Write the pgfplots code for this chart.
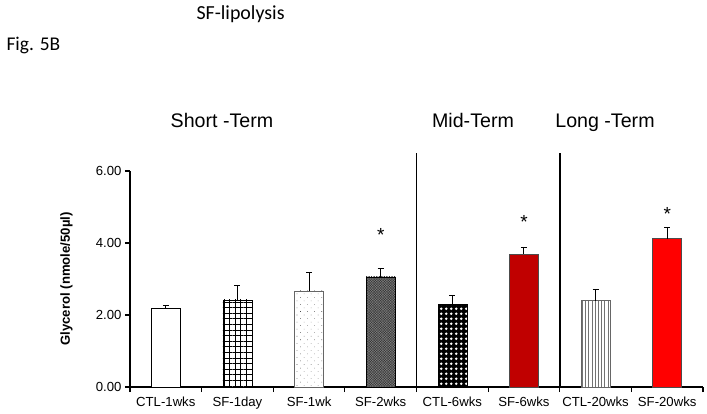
\documentclass[border=0pt]{standalone}
\usepackage{pgfplots}
\pgfplotsset{compat=1.18}
\usepackage{fontspec}
\setmainfont{Liberation Sans}
\newfontfamily\calib{Carlito}
\usetikzlibrary{patterns,patterns.meta}
\definecolor{darkred}{HTML}{C00000}
\definecolor{brightred}{HTML}{FF0000}
\begin{document}
\begin{tikzpicture}
\useasboundingbox (0,0) rectangle (707bp,414bp);
\node[font=\calib\fontsize{19.5}{22}\selectfont, anchor=west] at (3bp,369bp) {Fig. 5B};
\node[font=\calib\fontsize{20}{22}\selectfont, anchor=west] at (193bp,400bp) {SF-lipolysis};
\node[font=\fontsize{19.7}{23}\selectfont, anchor=base] at (222bp,286bp) {Short -Term};
\node[font=\fontsize{19.7}{23}\selectfont, anchor=base] at (473bp,286bp) {Mid-Term};
\node[font=\fontsize{19.7}{23}\selectfont, anchor=base] at (605bp,286bp) {Long -Term};
\begin{axis}[
  at={(130bp,27bp)}, anchor=south west,
  scale only axis, width=573bp, height=216bp,
  xmin=-0.5, xmax=7.5, ymin=0, ymax=6,
  clip=false,
  axis x line=bottom, axis y line=left,
  axis line style={line width=1.5pt, -},
  ybar, bar width=0.405, bar shift=0pt,
  xtick={0,1,2,3,4,5,6,7},
  xticklabels={CTL-1wks,SF-1day,SF-1wk,SF-2wks,CTL-6wks,SF-6wks,CTL-20wks,SF-20wks},
  major x tick style={draw=none},
  minor xtick={-0.5,0.5,...,7.5},
  minor x tick style={line width=1.1pt, black},
  minor tick length=5bp,
  xtick pos=bottom, ytick pos=left,
  tick align=outside,
  ytick={0,2,4,6},
  yticklabels={0.00,2.00,4.00,6.00},
  major tick length=5bp,
  y tick style={line width=1.1pt, black},
  tick label style={font=\fontsize{13.2}{15}\selectfont},
  /pgf/number format/assume math mode=true,
  xticklabel style={yshift=-1bp},
  ylabel={Glycerol (nmole/50µl)},
  ylabel style={font=\bfseries\fontsize{13.2}{15}\selectfont, at={(axis description cs:-0.094,0.5)}},
  error bars/y dir=plus, error bars/y explicit,
  error bars/error bar style={black, line width=0.9pt},
  error bars/error mark options={black, rotate=90, mark size=3bp, line width=0.9pt},
]
\addplot[fill=white, draw=black, line width=0.6pt] coordinates {(0,2.19) +- (0,0.07)};
\addplot[fill=white, draw=black, line width=0.6pt, postaction={pattern={Hatch[angle=0, distance=5.6bp, line width=0.8pt]}, pattern color=black}] coordinates {(1,2.42) +- (0,0.40)};
\addplot[fill=white, draw=black!60, line width=0.6pt, postaction={pattern={Dots[radius=0.4bp, distance=5bp, angle=45]}, pattern color=black!70}] coordinates {(2,2.67) +- (0,0.52)};
\addplot[fill=black!50, draw=black, line width=0.6pt, postaction={pattern={Hatch[angle=45, distance=1.8bp, line width=0.35pt]}, pattern color=black!80}] coordinates {(3,3.06) +- (0,0.23)};
\addplot[fill=black, draw=black, line width=0.6pt, postaction={pattern={Dots[radius=1.5bp, distance=5.2bp, angle=0]}, pattern color=white}] coordinates {(4,2.31) +- (0,0.22)};
\addplot[fill=darkred, draw=black!70, line width=0.6pt] coordinates {(5,3.70) +- (0,0.17)};
\addplot[fill=white, draw=black!60, line width=0.6pt, postaction={pattern={Lines[angle=90, distance=3.2bp, line width=0.7pt]}, pattern color=black!55}] coordinates {(6,2.40) +- (0,0.30)};
\addplot[fill=brightred, draw=black!70, line width=0.6pt] coordinates {(7,4.12) +- (0,0.30)};
\addplot[sharp plot, no marks, black, line width=1.8pt, error bars/y dir=none] coordinates {(3.5,0) (3.5,6.5)};
\addplot[sharp plot, no marks, black, line width=1.8pt, error bars/y dir=none] coordinates {(5.5,0) (5.5,6.5)};
\node[font=\fontsize{19}{21}\selectfont] at (axis cs:3,4.22) {*};
\node[font=\fontsize{19}{21}\selectfont] at (axis cs:5,4.59) {*};
\node[font=\fontsize{19}{21}\selectfont] at (axis cs:7,4.80) {*};
\end{axis}
\end{tikzpicture}
\end{document}
